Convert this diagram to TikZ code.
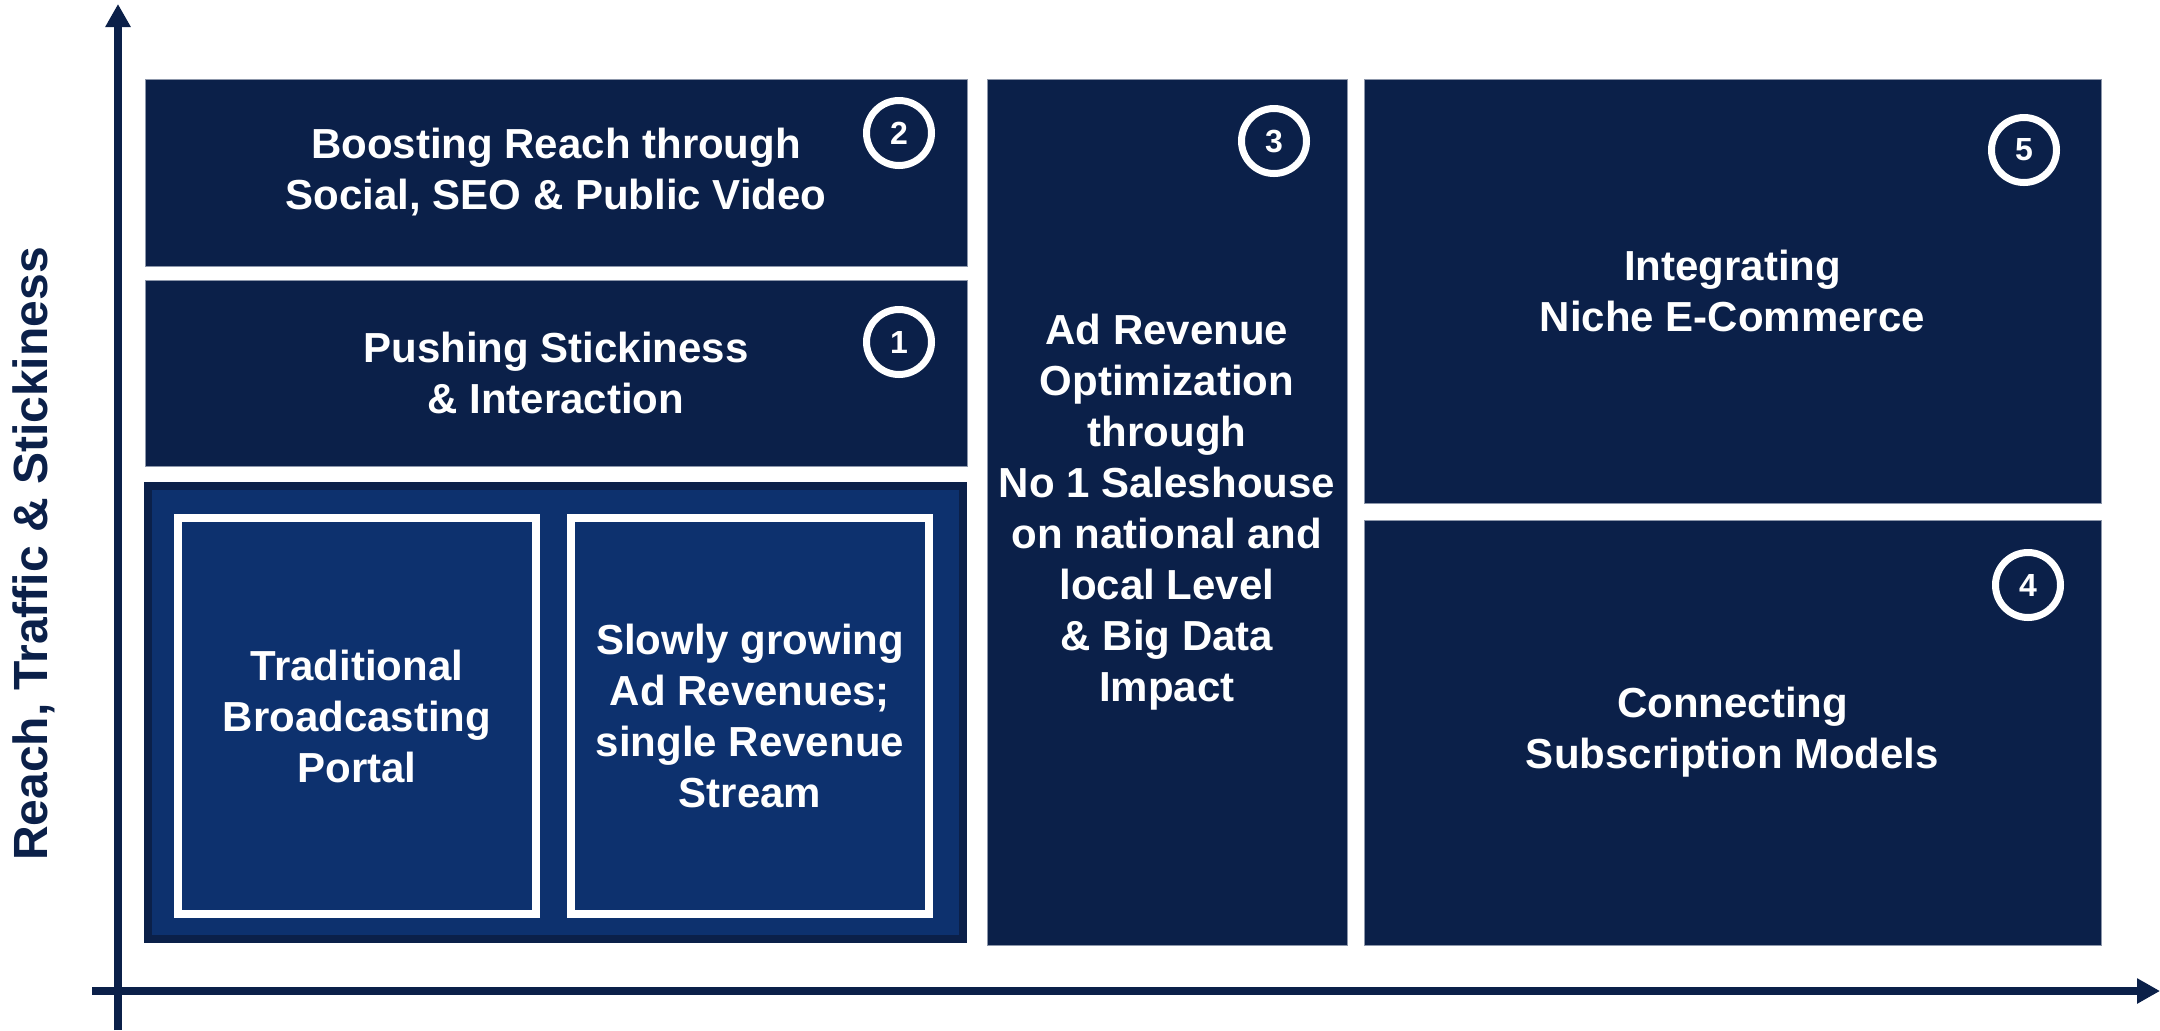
\documentclass[tikz,border=0pt]{standalone}
\usepackage{fontspec}
\setmainfont{Liberation Sans}
\usetikzlibrary{arrows.meta}
\definecolor{navy}{RGB}{11,32,73}
\definecolor{midblue}{RGB}{13,49,110}
\definecolor{edgegray}{RGB}{140,150,170}
\tikzset{
  box/.style={fill=navy, draw=edgegray, line width=0.4pt, inner sep=0pt, align=center, text=white,
    font=\bfseries\fontsize{21}{25.5}\selectfont},
  outerbox/.style={fill=midblue, draw=navy, line width=4pt, inner sep=0pt},
  innerbox/.style={fill=midblue, draw=white, line width=4pt, inner sep=0pt, align=center, text=white,
    font=\bfseries\fontsize{21}{25.5}\selectfont},
  numcirc/.style={circle, draw=white, line width=3.5pt, minimum size=32.5pt, inner sep=0pt, text=white,
    font=\bfseries\fontsize{16}{16}\selectfont},
  axis/.style={draw=navy, line width=4pt, -{Triangle[length=11.5pt,width=12pt]}}
}
\begin{document}
\begin{tikzpicture}[x=0.5pt,y=-0.5pt]
\useasboundingbox (0,0) rectangle (2160,1030);
% boxes
\node[box, minimum width=411pt, minimum height=93.5pt] (b2) at (556,172.5) {Boosting Reach through\\Social, SEO \& Public Video};
\node[box, minimum width=411pt, minimum height=93pt] (b1) at (556,373) {Pushing Stickiness\\\& Interaction};
\node[outerbox, minimum width=407.5pt, minimum height=226.5pt] (bl) at (555.5,712.5) {};
\node[innerbox, minimum width=179pt, minimum height=198pt] (trad) at (357,716) {Traditional\\Broadcasting\\Portal};
\node[innerbox, minimum width=179pt, minimum height=198pt] (slow) at (750,716) {Slowly growing\\Ad Revenues;\\single Revenue\\Stream};
\node[box, minimum width=180pt, minimum height=433pt] (b3) at (1167,512) {Ad Revenue\\Optimization\\through\\No 1 Saleshouse\\on national and\\local Level\\\& Big Data\\Impact};
\node[box, minimum width=368.5pt, minimum height=212pt] (b5) at (1732.5,291) {Integrating\\Niche E-Commerce};
\node[box, minimum width=368.5pt, minimum height=212.5pt] (b4) at (1732.5,732.5) {Connecting\\Subscription Models};
% number circles
\node[numcirc] (c2) at (899,133) {2};
\node[numcirc] (c1) at (899,342) {1};
\node[numcirc] (c3) at (1274,141) {3};
\node[numcirc] (c5) at (2024,150) {5};
\node[numcirc] (c4) at (2028,585) {4};
% axes
\coordinate (yb) at (118,1030);
\coordinate (yt) at (118,4);
\coordinate (xl) at (92,991);
\coordinate (xr) at (2160,991);
\draw[axis] (yb) -- (yt);
\draw[axis] (xl) -- (xr);
\node[rotate=90, text=navy, font=\bfseries\fontsize{24}{24}\selectfont] (ylab) at (34,554) {Reach, Traffic \& Stickiness};
\end{tikzpicture}
\end{document}
